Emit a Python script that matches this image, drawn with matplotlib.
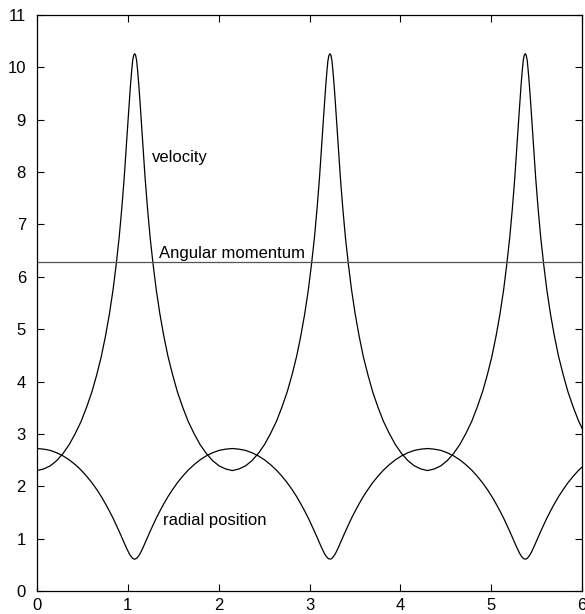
import matplotlib
matplotlib.use("Agg")
import matplotlib.pyplot as plt

plt.rcParams['font.family'] = ['Liberation Sans', 'DejaVu Sans']

time = [
    0.000, 0.073, 0.146, 0.217, 0.288, 0.356, 0.422, 0.486, 0.546, 0.604, 0.658, 0.708, 0.754, 0.797, 0.837, 0.872,
    0.905, 0.934, 0.960, 0.983, 1.004, 1.017, 1.030, 1.042, 1.053, 1.064, 1.075,
    1.086, 1.097, 1.108, 1.120, 1.133, 1.146, 1.167, 1.190, 1.216, 1.245, 1.278, 1.313, 1.353, 1.396, 1.442, 1.493,
    1.546, 1.604, 1.664, 1.728, 1.794, 1.862, 1.933, 2.004, 2.077, 2.150,
    2.223, 2.296, 2.367, 2.438, 2.506, 2.572, 2.636, 2.696, 2.754, 2.808, 2.858, 2.904, 2.947, 2.987, 3.022, 3.055,
    3.084, 3.110, 3.133, 3.154, 3.167, 3.180, 3.192, 3.203, 3.214, 3.225,
    3.236, 3.247, 3.258, 3.270, 3.283, 3.296, 3.317, 3.340, 3.366, 3.395, 3.428, 3.463, 3.503, 3.546, 3.592, 3.643,
    3.696, 3.754, 3.814, 3.878, 3.944, 4.012, 4.083, 4.154, 4.227, 4.300,
    4.373, 4.446, 4.517, 4.588, 4.656, 4.722, 4.786, 4.846, 4.904, 4.958, 5.008, 5.054, 5.097, 5.137, 5.172, 5.205,
    5.234, 5.260, 5.283, 5.304, 5.317, 5.330, 5.342, 5.353, 5.364, 5.375,
    5.386, 5.397, 5.408, 5.420, 5.433, 5.446, 5.467, 5.490, 5.516, 5.545, 5.578, 5.613, 5.653, 5.696, 5.742, 5.793,
    5.846, 5.904, 5.964, 6.028,
]

radial_position = [
    2.721, 2.709, 2.685, 2.640, 2.579, 2.503, 2.411, 2.308, 2.193, 2.069, 1.938, 1.803, 1.665, 1.527, 1.392, 1.261,
    1.137, 1.022, 0.919, 0.828, 0.751, 0.708, 0.673, 0.645, 0.625, 0.613, 0.609,
    0.613, 0.625, 0.645, 0.673, 0.708, 0.751, 0.828, 0.919, 1.022, 1.137, 1.261, 1.392, 1.527, 1.665, 1.803, 1.938,
    2.069, 2.193, 2.308, 2.411, 2.503, 2.579, 2.640, 2.685, 2.709, 2.721,
    2.709, 2.685, 2.640, 2.579, 2.503, 2.411, 2.308, 2.193, 2.069, 1.938, 1.803, 1.665, 1.527, 1.392, 1.261, 1.137,
    1.022, 0.919, 0.828, 0.751, 0.708, 0.673, 0.645, 0.625, 0.613, 0.609,
    0.613, 0.625, 0.645, 0.673, 0.708, 0.751, 0.828, 0.919, 1.022, 1.137, 1.261, 1.392, 1.527, 1.665, 1.803, 1.938,
    2.069, 2.193, 2.308, 2.411, 2.503, 2.579, 2.640, 2.685, 2.709, 2.721,
    2.709, 2.685, 2.640, 2.579, 2.503, 2.411, 2.308, 2.193, 2.069, 1.938, 1.803, 1.665, 1.527, 1.392, 1.261, 1.137,
    1.022, 0.919, 0.828, 0.751, 0.708, 0.673, 0.645, 0.625, 0.613, 0.609,
    0.613, 0.625, 0.645, 0.673, 0.708, 0.751, 0.828, 0.919, 1.022, 1.137, 1.261, 1.392, 1.527, 1.665, 1.803, 1.938,
    2.069, 2.193, 2.308, 2.411,
]

velocity = [
    2.30, 2.33, 2.39, 2.49, 2.63, 2.80, 3.01, 3.24, 3.51, 3.80, 4.13, 4.48, 4.87, 5.29, 5.75, 6.24,
    6.76, 7.32, 7.89, 8.47, 9.03, 9.37, 9.68, 9.93, 10.13, 10.23, 10.26,
    10.23, 10.13, 9.93, 9.68, 9.37, 9.03, 8.47, 7.89, 7.32, 6.76, 6.24, 5.75, 5.29, 4.87, 4.48, 4.13,
    3.80, 3.51, 3.24, 3.01, 2.80, 2.63, 2.49, 2.39, 2.33, 2.30,
    2.33, 2.39, 2.49, 2.63, 2.80, 3.01, 3.24, 3.51, 3.80, 4.13, 4.48, 4.87, 5.29, 5.75, 6.24, 6.76,
    7.32, 7.89, 8.47, 9.03, 9.37, 9.68, 9.93, 10.13, 10.23, 10.26,
    10.23, 10.13, 9.93, 9.68, 9.37, 9.03, 8.47, 7.89, 7.32, 6.76, 6.24, 5.75, 5.29, 4.87, 4.48, 4.13,
    3.80, 3.51, 3.24, 3.01, 2.80, 2.63, 2.49, 2.39, 2.33, 2.30,
    2.33, 2.39, 2.49, 2.63, 2.80, 3.01, 3.24, 3.51, 3.80, 4.13, 4.48, 4.87, 5.29, 5.75, 6.24, 6.76,
    7.32, 7.89, 8.47, 9.03, 9.37, 9.68, 9.93, 10.13, 10.23, 10.26,
    10.23, 10.13, 9.93, 9.68, 9.37, 9.03, 8.47, 7.89, 7.32, 6.76, 6.24, 5.75, 5.29, 4.87, 4.48, 4.13,
    3.80, 3.51, 3.24, 3.01,
]

angular_momentum_t = [0.0, 6.0]
angular_momentum = [6.28, 6.28]

x_ticks = [0, 1, 2, 3, 4, 5, 6]
y_ticks = [0, 1, 2, 3, 4, 5, 6, 7, 8, 9, 10, 11]

fig = plt.figure(figsize=(5.85, 6.14), dpi=100)
ax = fig.add_axes([37 / 585, 1 - 591 / 614, (582 - 37) / 585, (591 - 15) / 614])

ax.plot(time, velocity, color='black', lw=0.9)
ax.plot(time, radial_position, color='black', lw=0.9)
ax.plot(angular_momentum_t, angular_momentum, color='#555555', lw=0.9)

ax.set_xlim(0, 6)
ax.set_ylim(0, 11)
ax.set_xticks(x_ticks)
ax.set_yticks(y_ticks)
ax.tick_params(direction='in', length=5, width=0.8, top=True, right=True,
               labelsize=12, colors='black')
ax.tick_params(axis='y', pad=8)
ax.tick_params(axis='x', pad=5)
for s in ax.spines.values():
    s.set_linewidth(0.9)

ax.text(1.266, 8.28, 'velocity', fontsize=12, va='center', ha='left')
ax.text(1.343, 6.45, 'Angular momentum', fontsize=12, va='center', ha='left')
ax.text(1.387, 1.35, 'radial position', fontsize=12, va='center', ha='left')

fig.savefig('out.png', dpi=100)
